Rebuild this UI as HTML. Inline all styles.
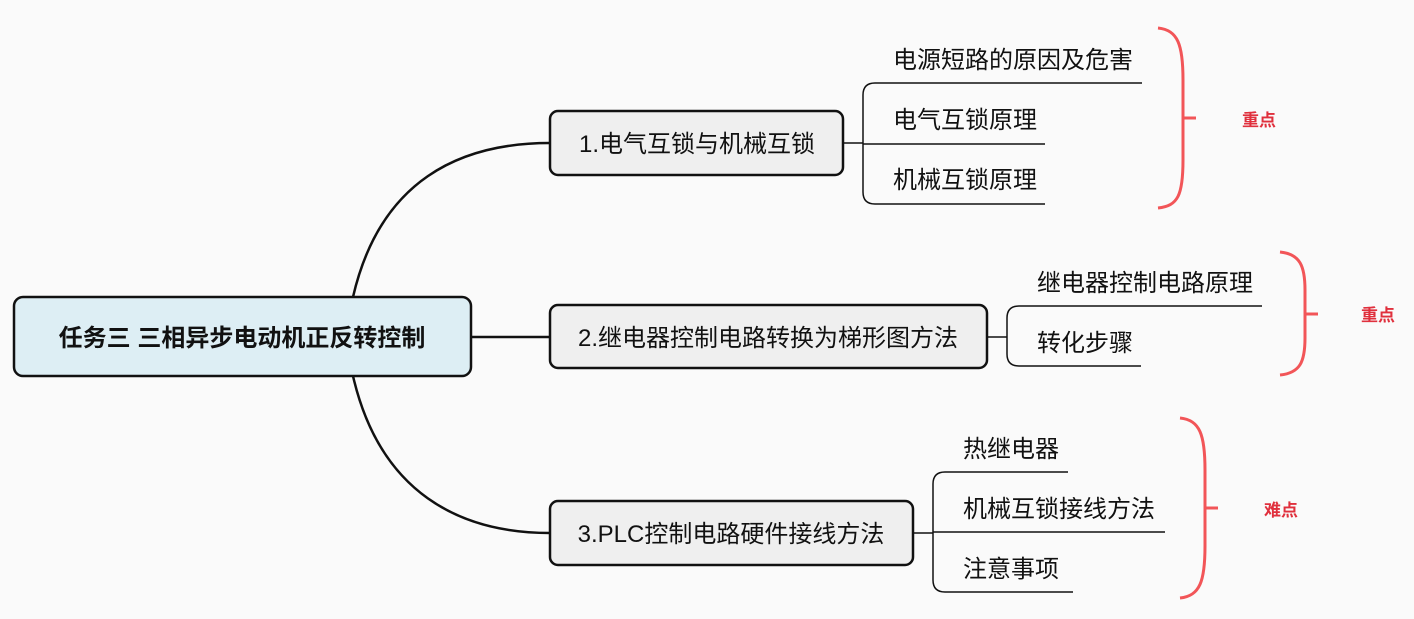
<!DOCTYPE html>
<html><head><meta charset="utf-8"><style>
html,body{margin:0;padding:0;background:#fafafa;}
svg text{font-family:"Liberation Sans","Noto Sans CJK SC",sans-serif;}
</style></head><body>
<svg width="1414" height="614" viewBox="0 0 1414 614" xmlns="http://www.w3.org/2000/svg">
<rect width="1414" height="614" fill="#fafafa"/>
<g fill="none" stroke="#111" stroke-width="2.5">
<path d="M353,297 C380,180 460,143 550,143"/>
<path d="M353,376 C380,493 460,533 550,533"/>
<path d="M471,337 L550,337"/>
</g>
<rect x="14" y="297" width="457" height="79" rx="9" fill="#ddeef4" stroke="#111" stroke-width="2.5"/>
<text x="242" y="346" font-size="24" font-weight="bold" text-anchor="middle" fill="#111">任务三 三相异步电动机正反转控制</text>
<g fill="#efefef" stroke="#111" stroke-width="2.5">
<rect x="550" y="111" width="293" height="64" rx="8"/>
<rect x="550" y="305" width="437" height="63" rx="8"/>
<rect x="550" y="501" width="363" height="64" rx="8"/>
</g>
<g font-size="24" text-anchor="middle" fill="#111">
<text x="697" y="152">1.电气互锁与机械互锁</text>
<text x="768" y="346">2.继电器控制电路转换为梯形图方法</text>
<text x="731" y="542">3.PLC控制电路硬件接线方法</text>
</g>
<g fill="none" stroke="#111" stroke-width="1.5">
<path d="M843,143 L863,143"/>
<path d="M1142,83 L875,83 Q863,83 863,95 L863,192 Q863,204 875,204 L1045,204"/>
<path d="M863,144 L1045,144"/>
<path d="M987,337 L1007,337"/>
<path d="M1262,306 L1019,306 Q1007,306 1007,318 L1007,354 Q1007,366 1019,366 L1141,366"/>
<path d="M913,533 L933,533"/>
<path d="M1068,472 L945,472 Q933,472 933,484 L933,580 Q933,592 945,592 L1073,592"/>
<path d="M933,532 L1165,532"/>
</g>
<g font-size="24" fill="#111">
<text x="893" y="68">电源短路的原因及危害</text>
<text x="893" y="128">电气互锁原理</text>
<text x="893" y="188">机械互锁原理</text>
<text x="1037" y="291">继电器控制电路原理</text>
<text x="1037" y="351">转化步骤</text>
<text x="963" y="457">热继电器</text>
<text x="963" y="517">机械互锁接线方法</text>
<text x="963" y="577">注意事项</text>
</g>
<g fill="none" stroke="#f25558" stroke-width="3">
<path d="M1158,28 C1178,30 1183,45 1183,80 L1183,160 C1183,195 1178,206 1158,208"/>
<path d="M1183,118 L1196,118"/>
<path d="M1280,252 C1300,254 1305,266 1305,290 L1305,338 C1305,362 1300,373 1280,375"/>
<path d="M1305,314 L1318,314"/>
<path d="M1180,418 C1200,420 1205,435 1205,470 L1205,546 C1205,581 1200,596 1180,598"/>
<path d="M1205,508 L1218,508"/>
</g>
<g font-size="17" font-weight="bold" fill="#e0303d" text-anchor="middle">
<text x="1259" y="126">重点</text>
<text x="1378" y="321">重点</text>
<text x="1281" y="516">难点</text>
</g>
</svg>
</body></html>
